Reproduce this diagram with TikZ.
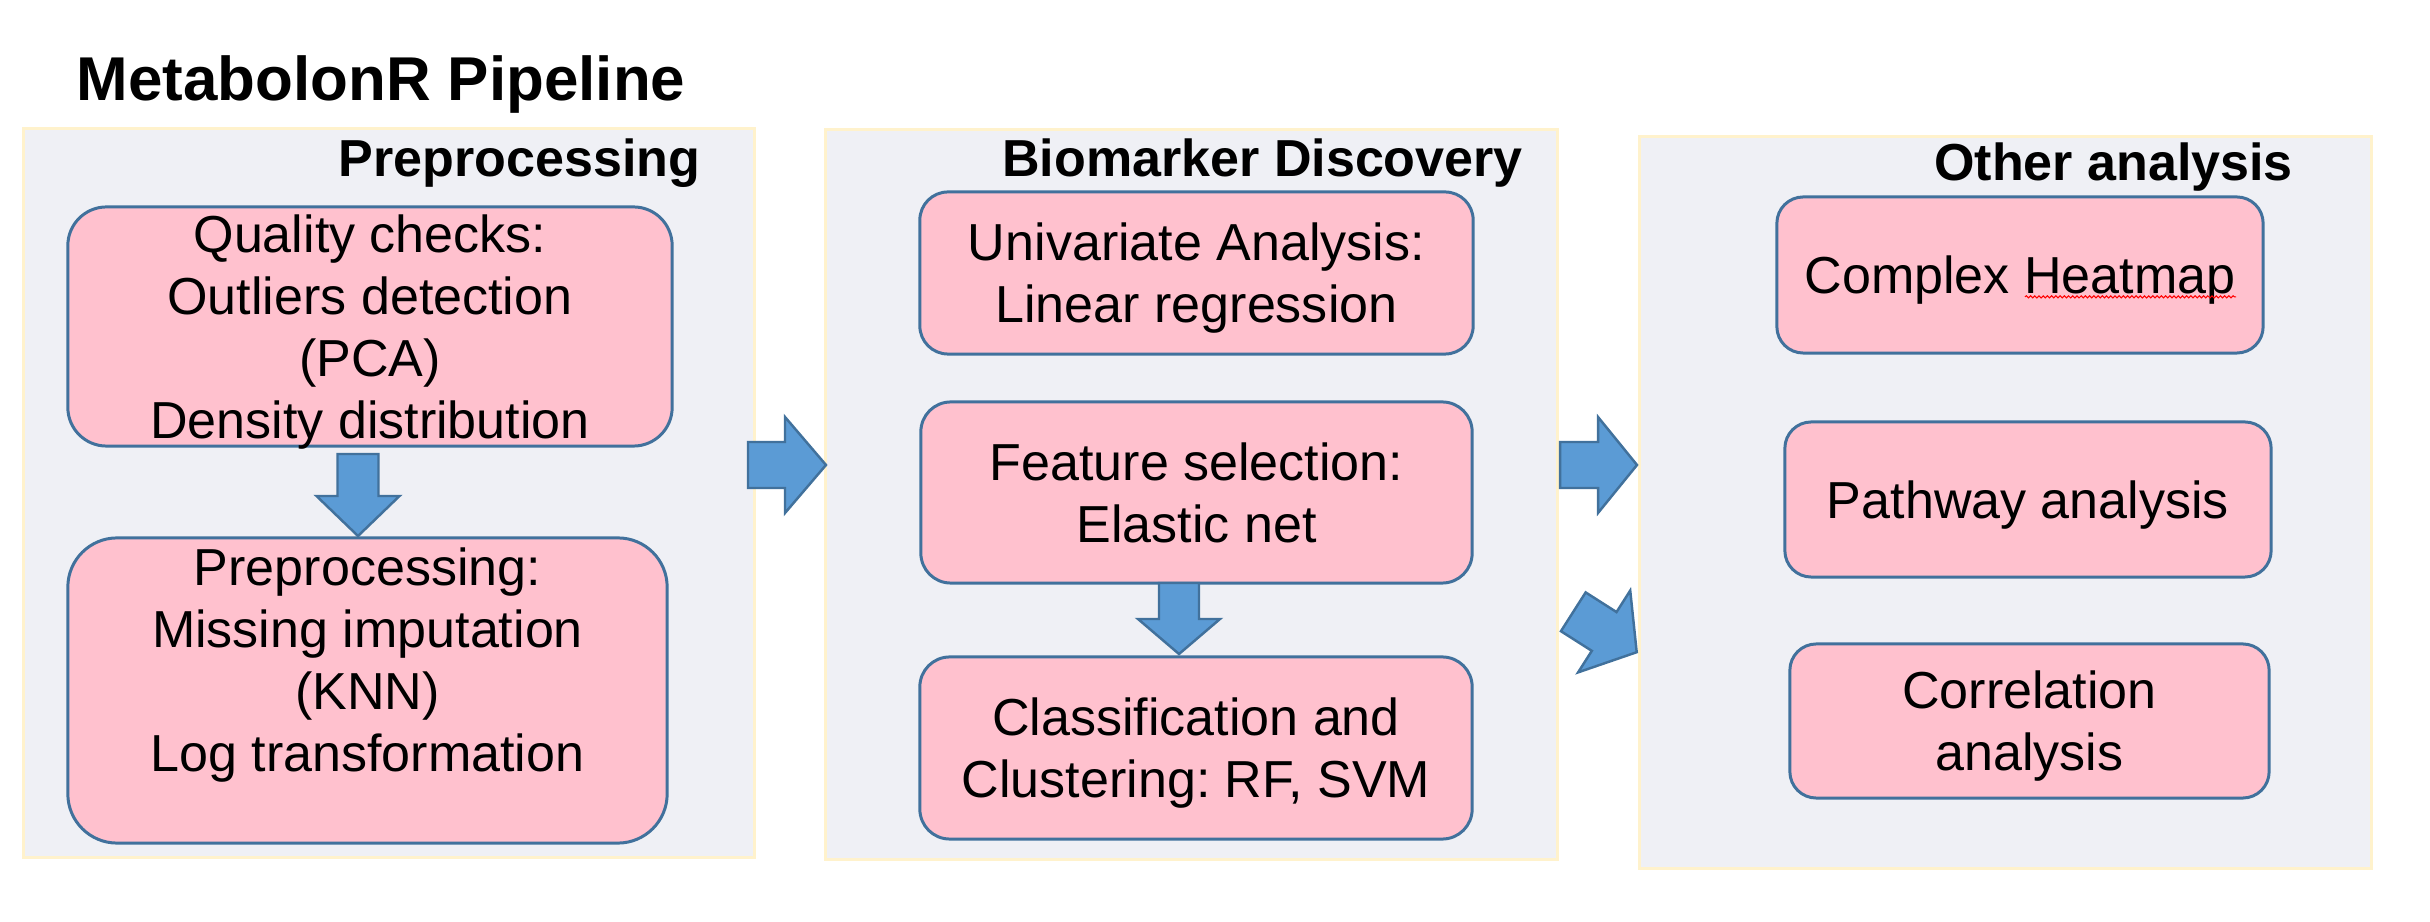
\documentclass[tikz,border=0pt]{standalone}
\usepackage{fontspec}
\setmainfont{Liberation Sans}
\frenchspacing
\usetikzlibrary{calc}
\usetikzlibrary{decorations.pathmorphing}
\definecolor{panelfill}{RGB}{239,240,245}
\definecolor{panelline}{RGB}{255,242,204}
\definecolor{boxfill}{RGB}{255,193,206}
\definecolor{boxline}{RGB}{65,113,156}
\definecolor{arrowfill}{RGB}{91,155,213}
\tikzstyle{panel} = [rectangle, draw=panelline, line width=0.8pt, fill=panelfill, inner sep=0pt]
\tikzstyle{process} = [rectangle, rounded corners=8pt, draw=boxline, line width=0.85pt, fill=boxfill, inner sep=0pt, align=center, text depth=0pt, font=\fontsize{14.8}{17.6}\selectfont]
\tikzstyle{heading} = [anchor=base east, inner sep=0pt, font=\fontsize{14.8}{17.6}\selectfont\bfseries]
\tikzstyle{arrowbody} = [draw=boxline, line width=0.7pt, fill=arrowfill, line join=miter]
\tikzset{pics/blockarr/.style n args={4}{code={
  \draw[arrowbody] (-#1,-#2) -- ({#1-#4},-#2) -- ({#1-#4},-#3) -- (#1,0) -- ({#1-#4},#3) -- ({#1-#4},#2) -- (-#1,#2) -- cycle;
}}}
\begin{document}
\begin{tikzpicture}[x=0.01cm, y=-0.01cm]
\useasboundingbox (0,0) rectangle (2430,922);
\node(title)[anchor=base west, inner sep=0pt, font=\fontsize{17.6}{21}\selectfont\bfseries] at (76,101) {MetabolonR Pipeline};

% panels
\node(pre)[panel, minimum width=7.31cm, minimum height=7.28cm] at (389,493) {};
\node(bio)[panel, minimum width=7.31cm, minimum height=7.29cm] at (1191.5,494.5) {};
\node(oth)[panel, minimum width=7.31cm, minimum height=7.31cm] at (2005.5,502.5) {};
\node(preh)[heading] at ($(pre.north east)+(-55,49)$) {Preprocessing};
\node(bioh)[heading] at ($(bio.north east)+(-35,48)$) {Biomarker Discovery};
\node(othh)[heading] at ($(oth.north east)+(-79,45)$) {Other analysis};

% boxes
\node(qc)[process, rounded corners=11pt, minimum width=6.04cm, minimum height=2.39cm] at (370,326.5) {Quality checks:\\Outliers detection\\(PCA)\\Density distribution};
\node(prep)[process, rounded corners=14pt, minimum width=5.99cm, minimum height=3.05cm] at (367.5,690.5) {Preprocessing:\\Missing imputation\\(KNN)\\Log transformation\\\mbox{}};
\node(uni)[process, minimum width=5.53cm, minimum height=1.62cm] at (1196.5,273) {Univariate Analysis:\\Linear regression};
\node(feat)[process, rounded corners=8.5pt, minimum width=5.51cm, minimum height=1.81cm] at (1196.5,492.5) {Feature selection:\\Elastic net};
\node(clf)[process, rounded corners=8.5pt, minimum width=5.52cm, minimum height=1.82cm] at (1196,748) {Classification and\\Clustering: RF, SVM};
\node(heat)[process, rounded corners=7.5pt, minimum width=4.86cm, minimum height=1.56cm] at (2020,275) {Complex Heatmap};
\node(path)[process, rounded corners=7.5pt, minimum width=4.86cm, minimum height=1.55cm] at (2028,499.5) {Pathway analysis};
\node(corr)[process, rounded corners=7.5pt, minimum width=4.79cm, minimum height=1.54cm] at (2029.5,721) {Correlation\\analysis};
\draw[red, line width=0.3pt, decorate, decoration={snake, amplitude=0.3pt, segment length=1.2pt}] ($(heat.base)+(5,3)$) -- ($(heat.base)+(216,3)$);

% block arrows
\pic[rotate=-90] at (358,495) {blockarr={41}{20.5}{41.5}{40}};
\pic[rotate=-90] at (1179,618.5) {blockarr={35.5}{20}{41}{35}};
\pic at (787,465) {blockarr={39}{23}{48}{41}};
\pic at (1598.5,465) {blockarr={38.5}{23}{48}{39}};
\pic[rotate=-32.5] at (1605,632) {blockarr={37.6}{23}{48.5}{38.6}};

\end{tikzpicture}
\end{document}
